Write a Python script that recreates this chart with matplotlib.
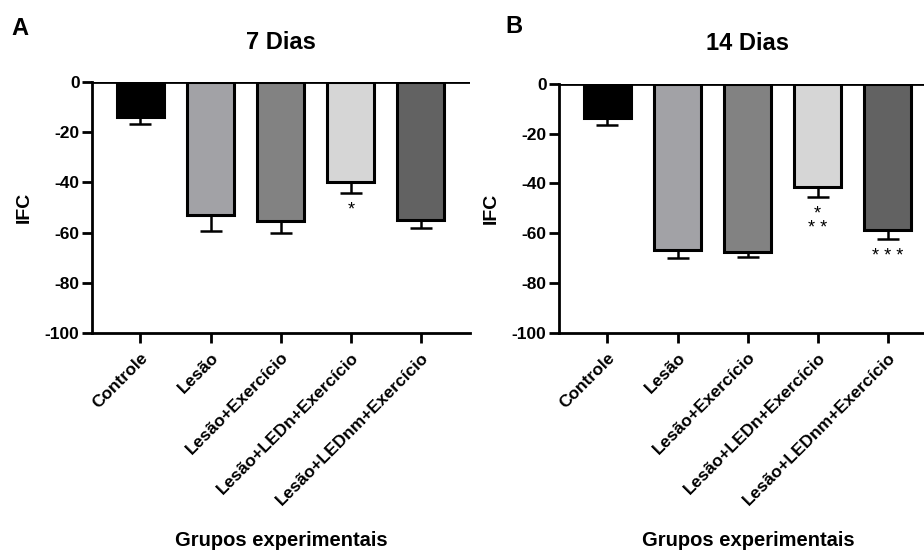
import matplotlib
matplotlib.use("Agg")
import matplotlib.pyplot as plt
import numpy as np

plt.rcParams['font.family'] = ['Liberation Sans', 'DejaVu Sans']
plt.rcParams['axes.unicode_minus'] = False

# -------------------------------
# Dados
# -------------------------------
grupos = ["Controle", "Lesão", "Lesão+Exercício", "Lesão+LEDn+Exercício", "Lesão+LEDnm+Exercício"]
cores = ["#000000", "#a2a2a6", "#828282", "#d6d6d6", "#626262"]

media_7 = [-13.8, -53.0, -55.3, -40.0, -55.0]
erro_7 = [2.7, 6.4, 4.7, 4.0, 3.0]
sig_7 = ["", "", "", "*", ""]

media_14 = [-13.8, -66.8, -67.4, -41.5, -58.6]
erro_14 = [2.8, 3.0, 2.0, 4.0, 3.6]
sig_14 = ["", "", "", "*\n* *", "* * *"]


def painel(ax, medias, erros, sig, titulo):
    x = np.arange(len(grupos))
    ax.bar(x, medias, width=0.67, color=cores, edgecolor="black", linewidth=2.2, zorder=2)
    ax.errorbar(x, medias, yerr=[erros, [0] * len(erros)], fmt="none",
                ecolor="black", elinewidth=1.8, capsize=8, capthick=1.8, zorder=1)
    for xi, m, e, s in zip(x, medias, erros, sig):
        if s:
            ax.text(xi, m - e - 3.5, s, ha="center", va="top", fontsize=13,
                    linespacing=0.75)
    ax.axhline(0, color="black", linewidth=2, zorder=3)
    ax.set_ylim(-100, 0)
    ax.set_xlim(-0.69, 4.7)
    ax.set_yticks([0, -20, -40, -60, -80, -100])
    ax.set_yticklabels(["0", "-20", "-40", "-60", "-80", "-100"],
                       fontweight="bold", fontsize=12.5)
    ax.set_xticks(x)
    ax.set_xticklabels(grupos, rotation=45, ha="right", rotation_mode="anchor",
                       fontweight="bold", fontsize=12.5)
    ax.tick_params(axis="y", width=2, length=7, pad=2)
    ax.tick_params(axis="x", width=2, length=7, pad=5)
    ax.spines["right"].set_visible(False)
    ax.spines["top"].set_visible(False)
    ax.spines["left"].set_linewidth(2)
    ax.spines["bottom"].set_linewidth(2)
    ax.set_ylabel("IFC", fontsize=14, fontweight="bold", labelpad=9)
    ax.set_xlabel("Grupos experimentais", fontsize=14.5, fontweight="bold", labelpad=17)
    ax.set_title(titulo, fontsize=17, fontweight="bold", pad=24)


fig = plt.figure(figsize=(9.24, 5.55), dpi=100)
ax1 = fig.add_axes([0.0996, 0.40, 0.409, 0.452])
ax2 = fig.add_axes([0.605, 0.40, 0.409, 0.449])

painel(ax1, media_7, erro_7, sig_7, "7 Dias")
painel(ax2, media_14, erro_14, sig_14, "14 Dias")

fig.text(0.012, 0.937, "A", fontsize=17, fontweight="bold")
fig.text(0.547, 0.940, "B", fontsize=17, fontweight="bold")

fig.savefig("out.png", dpi=100)
